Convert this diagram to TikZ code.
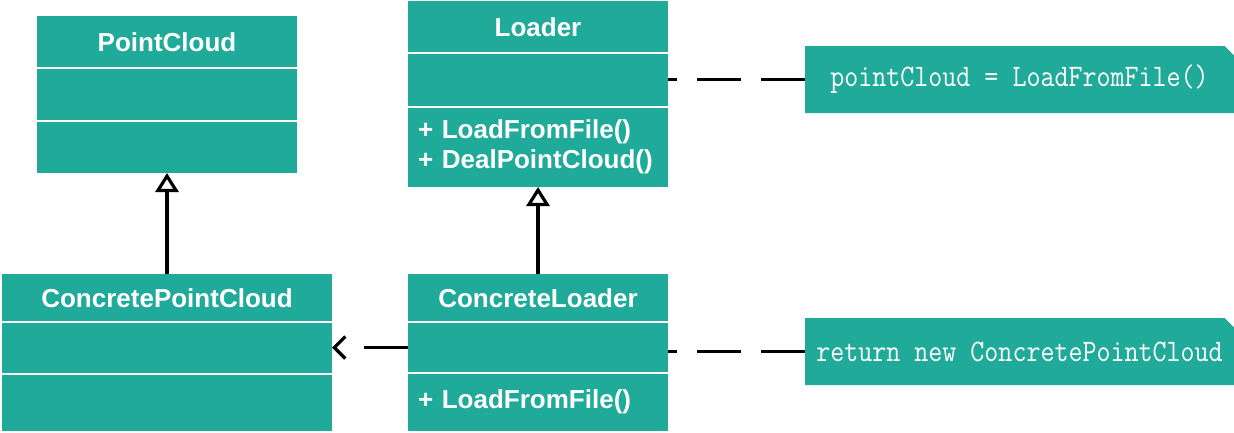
\documentclass[tikz,border=0pt]{standalone}
\usepackage{graphicx}
\usepackage{fontspec}
\setmainfont{Liberation Sans}
\usetikzlibrary{arrows.meta,backgrounds}
\definecolor{umlteal}{RGB}{32,170,153}
\begin{document}
\begin{tikzpicture}[x=1pt,y=-1pt,
  comp/.style={draw=none,fill=umlteal,inner sep=0pt,outer sep=0pt,anchor=north west,
    text=white,font=\fontsize{26}{30}\selectfont\bfseries},
  methods/.style={comp,text width=240pt,align=left,inner xsep=10pt},
  divider/.style={white,line width=1.5pt},
  notebox/.style={inner sep=0pt,outer sep=0pt,anchor=north west,minimum width=429pt,
    minimum height=67pt,text=white,font=\ttfamily\fontsize{27.2}{30}\selectfont},
  notefill/.style={fill=umlteal},
  foldline/.style={umlteal,line width=0.7pt},
  inh/.style={draw=black,line width=3.2pt,-{Triangle[open,length=19pt,width=23pt]}},
  dep/.style={draw=black,line width=3.2pt,dash pattern=on 44pt off 40pt,
    -{Straight Barb[length=11pt,width=22pt]}},
  notelink/.style={draw=black,line width=3.2pt,dash pattern=on 44pt off 20pt}
]
\useasboundingbox (0,0) rectangle (1234,432);

% PointCloud
\node[comp,minimum width=260pt,minimum height=52pt] (pcT) at (37,16) {PointCloud};
\node[comp,minimum width=260pt,minimum height=53pt] (pcA) at (37,68) {};
\node[comp,minimum width=260pt,minimum height=52pt] (pcM) at (37,121) {};
\draw[divider] (pcT.south west) -- (pcT.south east);
\draw[divider] (pcA.south west) -- (pcA.south east);

% Loader
\node[comp,minimum width=260pt,minimum height=52pt] (ldT) at (408,1) {Loader};
\node[comp,minimum width=260pt,minimum height=54pt] (ldA) at (408,53) {};
\node[methods,minimum width=260pt,minimum height=80pt] (ldM) at (408,107) {+ LoadFromFile()\\+ DealPointCloud()};
\draw[divider] (ldT.south west) -- (ldT.south east);
\draw[divider] (ldA.south west) -- (ldA.south east);

% ConcretePointCloud
\node[comp,minimum width=330pt,minimum height=48pt] (cpcT) at (2,274) {ConcretePointCloud};
\node[comp,minimum width=330pt,minimum height=52pt] (cpcA) at (2,322) {};
\node[comp,minimum width=330pt,minimum height=57pt] (cpcM) at (2,374) {};
\draw[divider] (cpcT.south west) -- (cpcT.south east);
\draw[divider] (cpcA.south west) -- (cpcA.south east);

% ConcreteLoader
\node[comp,minimum width=260pt,minimum height=48pt] (clT) at (408,274) {ConcreteLoader};
\node[comp,minimum width=260pt,minimum height=51pt] (clA) at (408,322) {};
\node[methods,minimum width=260pt,minimum height=58pt] (clM) at (408,373) {+ LoadFromFile()};
\draw[divider] (clT.south west) -- (clT.south east);
\draw[divider] (clA.south west) -- (clA.south east);

% Notes
\node[notebox] (note1) at (805,46) {\scalebox{1}[1.15]{pointCloud = LoadFromFile()}};
\node[notebox] (note2) at (805,318) {\scalebox{1}[1.15]{return new ConcretePointCloud}};
\begin{scope}[on background layer]
  \foreach \n in {note1,note2} {
    \fill[notefill] (\n.north west) -- ([xshift=-10pt]\n.north east)
      -- ([yshift=-10pt]\n.north east) -- (\n.south east) -- (\n.south west) -- cycle;
  }
\end{scope}
\draw[foldline] ([xshift=-10pt]note1.north east) -- ([yshift=-10pt]note1.north east);
\draw[foldline] ([xshift=-10pt]note2.north east) -- ([yshift=-10pt]note2.north east);

% Connectors
\draw[inh] (cpcT.north -| pcM.south) -- (pcM.south);
\draw[inh] (clT.north) -- (ldM.south);
\draw[dep] (clA.west) -- (clA.west -| cpcA.east);
\draw[notelink] (note1.west) -- (note1.west -| ldA.east);
\draw[notelink] (note2.west) -- (note2.west -| clA.east);
\end{tikzpicture}
\end{document}
